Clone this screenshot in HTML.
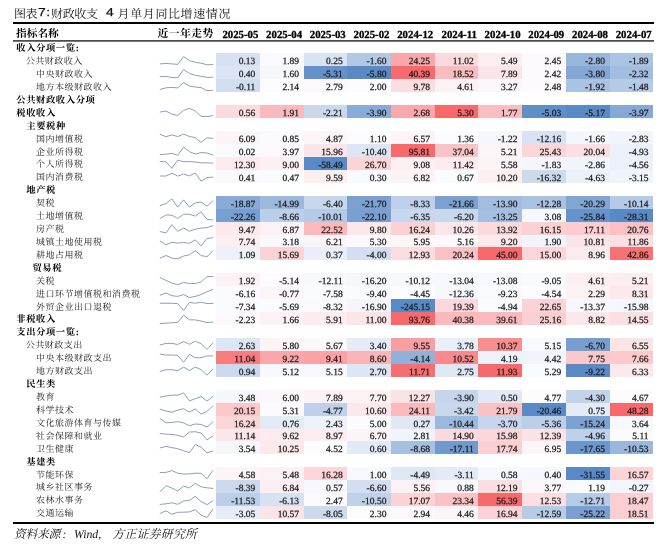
<!DOCTYPE html>
<html lang="zh-CN"><head><meta charset="utf-8"><title>图表7:财政收支4月单月同比增速情况</title>
<style>
html,body{margin:0;padding:0;background:#fff}
body{width:660px;height:548px;position:relative;overflow:hidden;will-change:transform;text-rendering:geometricPrecision;font-family:"Liberation Serif",serif}
.ln{position:absolute;background:#000}
.c{position:absolute;width:43.70px;height:12.94px;line-height:16.34px;box-sizing:border-box;padding-right:4.6px;text-align:right;font-size:9.5px;color:#1a1a1a;white-space:nowrap;-webkit-text-stroke:0.25px #1a1a1a}
.h{position:absolute;top:24px;height:16px;line-height:22.6px;box-sizing:border-box;padding-right:1.5px;text-align:right;font-size:10.8px;font-weight:bold;color:#000;white-space:nowrap;-webkit-text-stroke:0.3px #000}
.t{position:absolute;margin:0;font-weight:normal;font-size:9.5px;line-height:12.9px;color:transparent;white-space:nowrap;font-family:"Liberation Sans",sans-serif}
.t.b{font-weight:bold;font-size:10px}
.lat{position:absolute;font-family:"Liberation Sans",sans-serif;color:#111;line-height:14px;white-space:nowrap}
.ov{position:absolute;left:0;top:0;pointer-events:none}
.ov text{font-family:"Liberation Serif","Noto Serif CJK SC",serif}
</style></head>
<body>
<div class="ln" style="left:13px;top:22px;width:640.6px;height:2px"></div>
<div class="ln" style="left:13px;top:40px;width:640.6px;height:1px;background:#4c4c4c"></div>
<div class="ln" style="left:13px;top:41px;width:640.6px;height:1px;background:#777"></div>
<div class="ln" style="left:13px;top:522px;width:640.6px;height:2px"></div>
<h1 class="t" style="left:15px;top:6px;font-size:11.3px">图表7:财政收支 4 月单月同比增速情况</h1>
<span class="lat" style="left:37.6px;top:5.9px;font-size:11.6px;letter-spacing:0.5px;transform:scaleX(1.2);transform-origin:0 0;-webkit-text-stroke:0.25px #111">7:</span>
<span class="lat" style="left:106.2px;top:5.9px;font-size:11.6px;transform:scaleX(1.2);transform-origin:0 0;-webkit-text-stroke:0.25px #111">4</span>
<div class="t" style="left:16px;top:28px;font-size:10.6px;font-weight:bold">指标名称</div>
<div class="t" style="left:157px;top:28px;font-size:10.6px;font-weight:bold">近一年走势</div>
<div class="h" style="left:216.20px;width:43.70px">2025-05</div>
<div class="h" style="left:259.90px;width:43.70px">2025-04</div>
<div class="h" style="left:303.60px;width:43.70px">2025-03</div>
<div class="h" style="left:347.30px;width:43.70px">2025-02</div>
<div class="h" style="left:391.00px;width:43.70px">2024-12</div>
<div class="h" style="left:434.70px;width:43.70px">2024-11</div>
<div class="h" style="left:478.40px;width:43.70px">2024-10</div>
<div class="h" style="left:522.10px;width:43.70px">2024-09</div>
<div class="h" style="left:565.80px;width:43.70px">2024-08</div>
<div class="h" style="left:609.50px;width:43.70px">2024-07</div>
<div class="t b" style="left:16.3px;top:40.50px">收入分项一览:</div>
<div class="t" style="left:25.4px;top:53.44px">公共财政收入</div>
<div class="c" style="left:216px;top:53px;width:44px;height:13px;line-height:18.00px;padding-right:4.70px;background:#d6e1f2">0.13</div>
<div class="c" style="left:260px;top:53px;width:44px;height:13px;line-height:18.00px;padding-right:5.00px;background:#fbfbff">1.89</div>
<div class="c" style="left:304px;top:53px;width:43px;height:13px;line-height:18.00px;padding-right:4.30px;background:#d9e3f3">0.25</div>
<div class="c" style="left:347px;top:53px;width:44px;height:13px;line-height:18.00px;padding-right:4.60px;background:#b2c8e5">-1.60</div>
<div class="c" style="left:391px;top:53px;width:44px;height:13px;line-height:18.00px;padding-right:4.90px;background:#faa7a9">24.25</div>
<div class="c" style="left:435px;top:53px;width:43px;height:13px;line-height:18.00px;padding-right:4.20px;background:#fbd9dc">11.02</div>
<div class="c" style="left:478px;top:53px;width:44px;height:13px;line-height:18.00px;padding-right:4.50px;background:#fceef1">5.49</div>
<div class="c" style="left:522px;top:53px;width:44px;height:13px;line-height:18.00px;padding-right:4.80px;background:#fcfafd">2.45</div>
<div class="c" style="left:566px;top:53px;width:44px;height:13px;line-height:18.00px;padding-right:5.10px;background:#99b6dc">-2.80</div>
<div class="c" style="left:610px;top:53px;width:43px;height:13px;line-height:18.00px;padding-right:4.40px;background:#acc4e3">-1.89</div>
<div class="t" style="left:35.8px;top:66.37px">中央财政收入</div>
<div class="c" style="left:216px;top:66px;width:44px;height:13px;line-height:18.00px;padding-right:4.70px;background:#dce5f4">0.40</div>
<div class="c" style="left:260px;top:66px;width:44px;height:13px;line-height:18.00px;padding-right:5.00px;background:#f5f7fc">1.60</div>
<div class="c" style="left:304px;top:66px;width:43px;height:13px;line-height:18.00px;padding-right:4.30px;background:#6491ca">-5.31</div>
<div class="c" style="left:347px;top:66px;width:44px;height:13px;line-height:18.00px;padding-right:4.60px;background:#5a8ac6">-5.80</div>
<div class="c" style="left:391px;top:66px;width:44px;height:13px;line-height:18.00px;padding-right:4.90px;background:#f8696b">40.39</div>
<div class="c" style="left:435px;top:66px;width:43px;height:13px;line-height:18.00px;padding-right:4.20px;background:#fabdbf">18.52</div>
<div class="c" style="left:478px;top:66px;width:44px;height:13px;line-height:18.00px;padding-right:4.50px;background:#fbe5e8">7.89</div>
<div class="c" style="left:522px;top:66px;width:44px;height:13px;line-height:18.00px;padding-right:4.80px;background:#fcfafd">2.42</div>
<div class="c" style="left:566px;top:66px;width:44px;height:13px;line-height:18.00px;padding-right:5.10px;background:#84a7d5">-3.80</div>
<div class="c" style="left:610px;top:66px;width:43px;height:13px;line-height:18.00px;padding-right:4.40px;background:#a3bde0">-2.32</div>
<div class="t" style="left:35.8px;top:79.31px">地方本级财政收入</div>
<div class="c" style="left:216px;top:79px;width:44px;height:13px;line-height:18.00px;padding-right:4.70px;background:#d1def0">-0.11</div>
<div class="c" style="left:260px;top:79px;width:44px;height:13px;line-height:18.00px;padding-right:5.00px;background:#fcfbfe">2.14</div>
<div class="c" style="left:304px;top:79px;width:43px;height:13px;line-height:18.00px;padding-right:4.30px;background:#fcf9fc">2.79</div>
<div class="c" style="left:347px;top:79px;width:44px;height:13px;line-height:18.00px;padding-right:4.60px;background:#fcfcff">2.00</div>
<div class="c" style="left:391px;top:79px;width:44px;height:13px;line-height:18.00px;padding-right:4.90px;background:#fbdee1">9.78</div>
<div class="c" style="left:435px;top:79px;width:43px;height:13px;line-height:18.00px;padding-right:4.20px;background:#fcf2f5">4.61</div>
<div class="c" style="left:478px;top:79px;width:44px;height:13px;line-height:18.00px;padding-right:4.50px;background:#fcf7fa">3.27</div>
<div class="c" style="left:522px;top:79px;width:44px;height:13px;line-height:18.00px;padding-right:4.80px;background:#fcfafd">2.48</div>
<div class="c" style="left:566px;top:79px;width:44px;height:13px;line-height:18.00px;padding-right:5.10px;background:#abc3e3">-1.92</div>
<div class="c" style="left:610px;top:79px;width:43px;height:13px;line-height:18.00px;padding-right:4.40px;background:#b4cae6">-1.48</div>
<div class="t b" style="left:16.3px;top:92.24px">公共财政收入分项</div>
<div class="t b" style="left:16.3px;top:105.17px">税收收入</div>
<div class="c" style="left:216px;top:105px;width:44px;height:13px;line-height:18.00px;padding-right:4.70px;background:#fbdbde">0.56</div>
<div class="c" style="left:260px;top:105px;width:44px;height:13px;line-height:18.00px;padding-right:5.00px;background:#fababd">1.91</div>
<div class="c" style="left:304px;top:105px;width:43px;height:13px;line-height:18.00px;padding-right:4.30px;background:#c8d8ed">-2.21</div>
<div class="c" style="left:347px;top:105px;width:44px;height:13px;line-height:18.00px;padding-right:4.60px;background:#89abd7">-3.90</div>
<div class="c" style="left:391px;top:105px;width:44px;height:13px;line-height:18.00px;padding-right:4.90px;background:#faa8aa">2.68</div>
<div class="c" style="left:435px;top:105px;width:43px;height:13px;line-height:18.00px;padding-right:4.20px;background:#f8696b">5.30</div>
<div class="c" style="left:478px;top:105px;width:44px;height:13px;line-height:18.00px;padding-right:4.50px;background:#fabec0">1.77</div>
<div class="c" style="left:522px;top:105px;width:44px;height:13px;line-height:18.00px;padding-right:4.80px;background:#5f8ec8">-5.03</div>
<div class="c" style="left:566px;top:105px;width:44px;height:13px;line-height:18.00px;padding-right:5.10px;background:#5a8ac6">-5.17</div>
<div class="c" style="left:610px;top:105px;width:43px;height:13px;line-height:18.00px;padding-right:4.40px;background:#87a9d6">-3.97</div>
<div class="t b" style="left:26.3px;top:118.11px">主要税种</div>
<div class="t" style="left:35.8px;top:131.05px">国内增值税</div>
<div class="c" style="left:216px;top:131px;width:44px;height:13px;line-height:18.00px;padding-right:4.70px;background:#fcf4f7">6.09</div>
<div class="c" style="left:260px;top:131px;width:44px;height:13px;line-height:18.00px;padding-right:5.00px;background:#fbfbff">0.85</div>
<div class="c" style="left:304px;top:131px;width:43px;height:13px;line-height:18.00px;padding-right:4.30px;background:#fcf6f9">4.87</div>
<div class="c" style="left:347px;top:131px;width:44px;height:13px;line-height:18.00px;padding-right:4.60px;background:#fcfcff">1.10</div>
<div class="c" style="left:391px;top:131px;width:44px;height:13px;line-height:18.00px;padding-right:4.90px;background:#fcf4f7">6.57</div>
<div class="c" style="left:435px;top:131px;width:43px;height:13px;line-height:18.00px;padding-right:4.20px;background:#fcfcff">1.36</div>
<div class="c" style="left:478px;top:131px;width:44px;height:13px;line-height:18.00px;padding-right:4.50px;background:#f5f7fd">-1.22</div>
<div class="c" style="left:522px;top:131px;width:44px;height:13px;line-height:18.00px;padding-right:4.80px;background:#d8e2f2">-12.16</div>
<div class="c" style="left:566px;top:131px;width:44px;height:13px;line-height:18.00px;padding-right:5.10px;background:#f4f6fc">-1.66</div>
<div class="c" style="left:610px;top:131px;width:43px;height:13px;line-height:18.00px;padding-right:4.40px;background:#f1f4fb">-2.83</div>
<div class="t" style="left:35.8px;top:143.98px">企业所得税</div>
<div class="c" style="left:216px;top:144px;width:44px;height:13px;line-height:18.00px;padding-right:4.70px;background:#f9fafe">0.02</div>
<div class="c" style="left:260px;top:144px;width:44px;height:13px;line-height:18.00px;padding-right:5.00px;background:#fcf8fb">3.97</div>
<div class="c" style="left:304px;top:144px;width:43px;height:13px;line-height:18.00px;padding-right:4.30px;background:#fbe5e8">15.96</div>
<div class="c" style="left:347px;top:144px;width:44px;height:13px;line-height:18.00px;padding-right:4.60px;background:#dce6f4">-10.40</div>
<div class="c" style="left:391px;top:144px;width:44px;height:13px;line-height:18.00px;padding-right:4.90px;background:#f8696b">95.81</div>
<div class="c" style="left:435px;top:144px;width:43px;height:13px;line-height:18.00px;padding-right:4.20px;background:#fac4c7">37.04</div>
<div class="c" style="left:478px;top:144px;width:44px;height:13px;line-height:18.00px;padding-right:4.50px;background:#fcf6f9">5.21</div>
<div class="c" style="left:522px;top:144px;width:44px;height:13px;line-height:18.00px;padding-right:4.80px;background:#fbd6d9">25.43</div>
<div class="c" style="left:566px;top:144px;width:44px;height:13px;line-height:18.00px;padding-right:5.10px;background:#fbdfe2">20.04</div>
<div class="c" style="left:610px;top:144px;width:43px;height:13px;line-height:18.00px;padding-right:4.40px;background:#ebf0f9">-4.93</div>
<div class="t" style="left:35.8px;top:156.92px">个人所得税</div>
<div class="c" style="left:216px;top:157px;width:44px;height:13px;line-height:18.00px;padding-right:4.70px;background:#fcebee">12.30</div>
<div class="c" style="left:260px;top:157px;width:44px;height:13px;line-height:18.00px;padding-right:5.00px;background:#fcf0f3">9.00</div>
<div class="c" style="left:304px;top:157px;width:43px;height:13px;line-height:18.00px;padding-right:4.30px;background:#5a8ac6">-58.49</div>
<div class="c" style="left:347px;top:157px;width:44px;height:13px;line-height:18.00px;padding-right:4.60px;background:#fbd4d7">26.70</div>
<div class="c" style="left:391px;top:157px;width:44px;height:13px;line-height:18.00px;padding-right:4.90px;background:#fcf0f3">9.08</div>
<div class="c" style="left:435px;top:157px;width:43px;height:13px;line-height:18.00px;padding-right:4.20px;background:#fcecef">11.42</div>
<div class="c" style="left:478px;top:157px;width:44px;height:13px;line-height:18.00px;padding-right:4.50px;background:#fcf5f8">5.58</div>
<div class="c" style="left:522px;top:157px;width:44px;height:13px;line-height:18.00px;padding-right:4.80px;background:#f4f6fc">-1.83</div>
<div class="c" style="left:566px;top:157px;width:44px;height:13px;line-height:18.00px;padding-right:5.10px;background:#f1f4fb">-2.86</div>
<div class="c" style="left:610px;top:157px;width:43px;height:13px;line-height:18.00px;padding-right:4.40px;background:#ecf1f9">-4.56</div>
<div class="t" style="left:35.8px;top:169.85px">国内消费税</div>
<div class="c" style="left:216px;top:170px;width:44px;height:13px;line-height:18.00px;padding-right:4.70px;background:#fafafe">0.41</div>
<div class="c" style="left:260px;top:170px;width:44px;height:13px;line-height:18.00px;padding-right:5.00px;background:#fafbfe">0.47</div>
<div class="c" style="left:304px;top:170px;width:43px;height:13px;line-height:18.00px;padding-right:4.30px;background:#fceff2">9.59</div>
<div class="c" style="left:347px;top:170px;width:44px;height:13px;line-height:18.00px;padding-right:4.60px;background:#f9fafe">0.30</div>
<div class="c" style="left:391px;top:170px;width:44px;height:13px;line-height:18.00px;padding-right:4.90px;background:#fcf3f6">6.82</div>
<div class="c" style="left:435px;top:170px;width:43px;height:13px;line-height:18.00px;padding-right:4.20px;background:#fafbfe">0.67</div>
<div class="c" style="left:478px;top:170px;width:44px;height:13px;line-height:18.00px;padding-right:4.50px;background:#fceef1">10.20</div>
<div class="c" style="left:522px;top:170px;width:44px;height:13px;line-height:18.00px;padding-right:4.80px;background:#ccdaee">-16.32</div>
<div class="c" style="left:566px;top:170px;width:44px;height:13px;line-height:18.00px;padding-right:5.10px;background:#ecf1f9">-4.63</div>
<div class="c" style="left:610px;top:170px;width:43px;height:13px;line-height:18.00px;padding-right:4.40px;background:#f0f4fb">-3.15</div>
<div class="t b" style="left:26.3px;top:182.78px">地产税</div>
<div class="t" style="left:35.8px;top:195.72px">契税</div>
<div class="c" style="left:216px;top:196px;width:44px;height:13px;line-height:18.00px;padding-right:4.70px;background:#89abd7">-18.87</div>
<div class="c" style="left:260px;top:196px;width:44px;height:13px;line-height:18.00px;padding-right:5.00px;background:#9cb9dd">-14.99</div>
<div class="c" style="left:304px;top:196px;width:43px;height:13px;line-height:18.00px;padding-right:4.30px;background:#c7d7ec">-6.40</div>
<div class="c" style="left:347px;top:196px;width:44px;height:13px;line-height:18.00px;padding-right:4.60px;background:#7ba1d2">-21.70</div>
<div class="c" style="left:391px;top:196px;width:44px;height:13px;line-height:18.00px;padding-right:4.90px;background:#bed0e9">-8.33</div>
<div class="c" style="left:435px;top:196px;width:43px;height:13px;line-height:18.00px;padding-right:4.20px;background:#7ba1d2">-21.66</div>
<div class="c" style="left:478px;top:196px;width:44px;height:13px;line-height:18.00px;padding-right:4.50px;background:#a2bddf">-13.90</div>
<div class="c" style="left:522px;top:196px;width:44px;height:13px;line-height:18.00px;padding-right:4.80px;background:#aac2e2">-12.28</div>
<div class="c" style="left:566px;top:196px;width:44px;height:13px;line-height:18.00px;padding-right:5.10px;background:#82a6d4">-20.29</div>
<div class="c" style="left:610px;top:196px;width:43px;height:13px;line-height:18.00px;padding-right:4.40px;background:#b5cae6">-10.14</div>
<div class="t" style="left:35.8px;top:208.66px">土地增值税</div>
<div class="c" style="left:216px;top:209px;width:44px;height:13px;line-height:18.00px;padding-right:4.70px;background:#789fd1">-22.26</div>
<div class="c" style="left:260px;top:209px;width:44px;height:13px;line-height:18.00px;padding-right:5.00px;background:#bccfe8">-8.66</div>
<div class="c" style="left:304px;top:209px;width:43px;height:13px;line-height:18.00px;padding-right:4.30px;background:#b5cae6">-10.01</div>
<div class="c" style="left:347px;top:209px;width:44px;height:13px;line-height:18.00px;padding-right:4.60px;background:#79a0d1">-22.10</div>
<div class="c" style="left:391px;top:209px;width:44px;height:13px;line-height:18.00px;padding-right:4.90px;background:#c8d7ed">-6.35</div>
<div class="c" style="left:435px;top:209px;width:43px;height:13px;line-height:18.00px;padding-right:4.20px;background:#c8d8ed">-6.20</div>
<div class="c" style="left:478px;top:209px;width:44px;height:13px;line-height:18.00px;padding-right:4.50px;background:#a5bfe0">-13.25</div>
<div class="c" style="left:522px;top:209px;width:44px;height:13px;line-height:18.00px;padding-right:4.80px;background:#f7f8fd">3.08</div>
<div class="c" style="left:566px;top:209px;width:44px;height:13px;line-height:18.00px;padding-right:5.10px;background:#6693ca">-25.84</div>
<div class="c" style="left:610px;top:209px;width:43px;height:13px;line-height:18.00px;padding-right:4.40px;background:#5a8ac6">-28.31</div>
<div class="t" style="left:35.8px;top:221.59px">房产税</div>
<div class="c" style="left:216px;top:222px;width:44px;height:13px;line-height:18.00px;padding-right:4.70px;background:#fbe9ec">9.47</div>
<div class="c" style="left:260px;top:222px;width:44px;height:13px;line-height:18.00px;padding-right:5.00px;background:#fcf2f5">6.87</div>
<div class="c" style="left:304px;top:222px;width:43px;height:13px;line-height:18.00px;padding-right:4.30px;background:#fababc">22.52</div>
<div class="c" style="left:347px;top:222px;width:44px;height:13px;line-height:18.00px;padding-right:4.60px;background:#fbe8eb">9.80</div>
<div class="c" style="left:391px;top:222px;width:44px;height:13px;line-height:18.00px;padding-right:4.90px;background:#fbd1d3">16.24</div>
<div class="c" style="left:435px;top:222px;width:43px;height:13px;line-height:18.00px;padding-right:4.20px;background:#fbe6e9">10.26</div>
<div class="c" style="left:478px;top:222px;width:44px;height:13px;line-height:18.00px;padding-right:4.50px;background:#fbd9dc">13.92</div>
<div class="c" style="left:522px;top:222px;width:44px;height:13px;line-height:18.00px;padding-right:4.80px;background:#fbd1d4">16.15</div>
<div class="c" style="left:566px;top:222px;width:44px;height:13px;line-height:18.00px;padding-right:5.10px;background:#fbcdd0">17.11</div>
<div class="c" style="left:610px;top:222px;width:43px;height:13px;line-height:18.00px;padding-right:4.40px;background:#fac0c3">20.76</div>
<div class="t" style="left:35.8px;top:234.53px">城镇土地使用税</div>
<div class="c" style="left:216px;top:235px;width:44px;height:12px;line-height:16.00px;padding-right:4.70px;background:#fceff2">7.74</div>
<div class="c" style="left:260px;top:235px;width:44px;height:12px;line-height:16.00px;padding-right:5.00px;background:#f7f9fd">3.18</div>
<div class="c" style="left:304px;top:235px;width:43px;height:12px;line-height:16.00px;padding-right:4.30px;background:#fcf5f8">6.21</div>
<div class="c" style="left:347px;top:235px;width:44px;height:12px;line-height:16.00px;padding-right:4.60px;background:#fcf8fb">5.30</div>
<div class="c" style="left:391px;top:235px;width:44px;height:12px;line-height:16.00px;padding-right:4.90px;background:#fcf6f9">5.95</div>
<div class="c" style="left:435px;top:235px;width:43px;height:12px;line-height:16.00px;padding-right:4.20px;background:#fcf8fb">5.16</div>
<div class="c" style="left:478px;top:235px;width:44px;height:12px;line-height:16.00px;padding-right:4.50px;background:#fceaed">9.20</div>
<div class="c" style="left:522px;top:235px;width:44px;height:12px;line-height:16.00px;padding-right:4.80px;background:#f1f4fb">1.90</div>
<div class="c" style="left:566px;top:235px;width:44px;height:12px;line-height:16.00px;padding-right:5.10px;background:#fbe4e7">10.81</div>
<div class="c" style="left:610px;top:235px;width:43px;height:12px;line-height:16.00px;padding-right:4.40px;background:#fbe0e3">11.86</div>
<div class="t" style="left:35.8px;top:247.46px">耕地占用税</div>
<div class="c" style="left:216px;top:247px;width:44px;height:13px;line-height:18.00px;padding-right:4.70px;background:#edf1fa">1.09</div>
<div class="c" style="left:260px;top:247px;width:44px;height:13px;line-height:18.00px;padding-right:5.00px;background:#fbd3d5">15.69</div>
<div class="c" style="left:304px;top:247px;width:43px;height:13px;line-height:18.00px;padding-right:4.30px;background:#e9eff8">0.37</div>
<div class="c" style="left:347px;top:247px;width:44px;height:13px;line-height:18.00px;padding-right:4.60px;background:#d3dff1">-4.00</div>
<div class="c" style="left:391px;top:247px;width:44px;height:13px;line-height:18.00px;padding-right:4.90px;background:#fbdcdf">12.93</div>
<div class="c" style="left:435px;top:247px;width:43px;height:13px;line-height:18.00px;padding-right:4.20px;background:#fac2c5">20.24</div>
<div class="c" style="left:478px;top:247px;width:44px;height:13px;line-height:18.00px;padding-right:4.50px;background:#f8696b">45.00</div>
<div class="c" style="left:522px;top:247px;width:44px;height:13px;line-height:18.00px;padding-right:4.80px;background:#fbd5d8">15.00</div>
<div class="c" style="left:566px;top:247px;width:44px;height:13px;line-height:18.00px;padding-right:5.10px;background:#fcebee">8.96</div>
<div class="c" style="left:610px;top:247px;width:43px;height:13px;line-height:18.00px;padding-right:4.40px;background:#f87173">42.86</div>
<div class="t b" style="left:32.5px;top:260.39px">贸易税</div>
<div class="t" style="left:35.8px;top:273.33px">关税</div>
<div class="c" style="left:216px;top:273px;width:44px;height:13px;line-height:18.00px;padding-right:4.70px;background:#fcf2f5">1.92</div>
<div class="c" style="left:260px;top:273px;width:44px;height:13px;line-height:18.00px;padding-right:5.00px;background:#fcfcff">-5.14</div>
<div class="c" style="left:304px;top:273px;width:43px;height:13px;line-height:18.00px;padding-right:4.30px;background:#f7f9fd">-12.11</div>
<div class="c" style="left:347px;top:273px;width:44px;height:13px;line-height:18.00px;padding-right:4.60px;background:#f4f7fc">-16.20</div>
<div class="c" style="left:391px;top:273px;width:44px;height:13px;line-height:18.00px;padding-right:4.90px;background:#f8f9fe">-10.12</div>
<div class="c" style="left:435px;top:273px;width:43px;height:13px;line-height:18.00px;padding-right:4.20px;background:#f6f8fd">-13.04</div>
<div class="c" style="left:478px;top:273px;width:44px;height:13px;line-height:18.00px;padding-right:4.50px;background:#f6f8fd">-13.08</div>
<div class="c" style="left:522px;top:273px;width:44px;height:13px;line-height:18.00px;padding-right:4.80px;background:#f9fafe">-9.05</div>
<div class="c" style="left:566px;top:273px;width:44px;height:13px;line-height:18.00px;padding-right:5.10px;background:#fceef1">4.61</div>
<div class="c" style="left:610px;top:273px;width:43px;height:13px;line-height:18.00px;padding-right:4.40px;background:#fcedf0">5.21</div>
<div class="t" style="left:35.8px;top:286.26px">进口环节增值税和消费税</div>
<div class="c" style="left:216px;top:286px;width:44px;height:13px;line-height:18.00px;padding-right:4.70px;background:#fbfbff">-6.16</div>
<div class="c" style="left:260px;top:286px;width:44px;height:13px;line-height:18.00px;padding-right:5.00px;background:#fcf6f9">-0.77</div>
<div class="c" style="left:304px;top:286px;width:43px;height:13px;line-height:18.00px;padding-right:4.30px;background:#fafbfe">-7.58</div>
<div class="c" style="left:347px;top:286px;width:44px;height:13px;line-height:18.00px;padding-right:4.60px;background:#f9fafe">-9.40</div>
<div class="c" style="left:391px;top:286px;width:44px;height:13px;line-height:18.00px;padding-right:4.90px;background:#fcfcff">-4.45</div>
<div class="c" style="left:435px;top:286px;width:43px;height:13px;line-height:18.00px;padding-right:4.20px;background:#f7f8fd">-12.36</div>
<div class="c" style="left:478px;top:286px;width:44px;height:13px;line-height:18.00px;padding-right:4.50px;background:#f9fafe">-9.23</div>
<div class="c" style="left:522px;top:286px;width:44px;height:13px;line-height:18.00px;padding-right:4.80px;background:#fcfcff">-4.54</div>
<div class="c" style="left:566px;top:286px;width:44px;height:13px;line-height:18.00px;padding-right:5.10px;background:#fcf2f4">2.29</div>
<div class="c" style="left:610px;top:286px;width:43px;height:13px;line-height:18.00px;padding-right:4.40px;background:#fbe9eb">8.31</div>
<div class="t" style="left:35.8px;top:299.20px">外贸企业出口退税</div>
<div class="c" style="left:216px;top:299px;width:44px;height:13px;line-height:18.00px;padding-right:4.70px;background:#fafbfe">-7.34</div>
<div class="c" style="left:260px;top:299px;width:44px;height:13px;line-height:18.00px;padding-right:5.00px;background:#fbfcff">-5.69</div>
<div class="c" style="left:304px;top:299px;width:43px;height:13px;line-height:18.00px;padding-right:4.30px;background:#fafafe">-8.32</div>
<div class="c" style="left:347px;top:299px;width:44px;height:13px;line-height:18.00px;padding-right:4.60px;background:#f4f6fc">-16.90</div>
<div class="c" style="left:391px;top:299px;width:44px;height:13px;line-height:18.00px;padding-right:4.90px;background:#5a8ac6">-245.15</div>
<div class="c" style="left:435px;top:299px;width:43px;height:13px;line-height:18.00px;padding-right:4.20px;background:#fbd8db">19.39</div>
<div class="c" style="left:478px;top:299px;width:44px;height:13px;line-height:18.00px;padding-right:4.50px;background:#fcfcff">-4.94</div>
<div class="c" style="left:522px;top:299px;width:44px;height:13px;line-height:18.00px;padding-right:4.80px;background:#fbd3d6">22.65</div>
<div class="c" style="left:566px;top:299px;width:44px;height:13px;line-height:18.00px;padding-right:5.10px;background:#f6f8fd">-13.37</div>
<div class="c" style="left:610px;top:299px;width:43px;height:13px;line-height:18.00px;padding-right:4.40px;background:#f4f7fc">-15.98</div>
<div class="t b" style="left:16.3px;top:312.13px">非税收入</div>
<div class="c" style="left:216px;top:312px;width:44px;height:13px;line-height:18.00px;padding-right:4.70px;background:#fcf8fb">-2.23</div>
<div class="c" style="left:260px;top:312px;width:44px;height:13px;line-height:18.00px;padding-right:5.00px;background:#fcf2f5">1.66</div>
<div class="c" style="left:304px;top:312px;width:43px;height:13px;line-height:18.00px;padding-right:4.30px;background:#fcecef">5.91</div>
<div class="c" style="left:347px;top:312px;width:44px;height:13px;line-height:18.00px;padding-right:4.60px;background:#fbe5e7">11.00</div>
<div class="c" style="left:391px;top:312px;width:44px;height:13px;line-height:18.00px;padding-right:4.90px;background:#f8696b">93.76</div>
<div class="c" style="left:435px;top:312px;width:43px;height:13px;line-height:18.00px;padding-right:4.20px;background:#fab9bb">40.38</div>
<div class="c" style="left:478px;top:312px;width:44px;height:13px;line-height:18.00px;padding-right:4.50px;background:#fababc">39.61</div>
<div class="c" style="left:522px;top:312px;width:44px;height:13px;line-height:18.00px;padding-right:4.80px;background:#fbcfd2">25.16</div>
<div class="c" style="left:566px;top:312px;width:44px;height:13px;line-height:18.00px;padding-right:5.10px;background:#fbe8eb">8.82</div>
<div class="c" style="left:610px;top:312px;width:43px;height:13px;line-height:18.00px;padding-right:4.40px;background:#fbdfe2">14.55</div>
<div class="t b" style="left:16.3px;top:325.07px">支出分项一览:</div>
<div class="t" style="left:25.4px;top:338.00px">公共财政支出</div>
<div class="c" style="left:216px;top:338px;width:44px;height:13px;line-height:18.00px;padding-right:4.70px;background:#dde6f4">2.63</div>
<div class="c" style="left:260px;top:338px;width:44px;height:13px;line-height:18.00px;padding-right:5.00px;background:#fcf5f8">5.80</div>
<div class="c" style="left:304px;top:338px;width:43px;height:13px;line-height:18.00px;padding-right:4.30px;background:#fcf8fb">5.67</div>
<div class="c" style="left:347px;top:338px;width:44px;height:13px;line-height:18.00px;padding-right:4.60px;background:#e5ecf7">3.40</div>
<div class="c" style="left:391px;top:338px;width:44px;height:13px;line-height:18.00px;padding-right:4.90px;background:#f99fa2">9.55</div>
<div class="c" style="left:435px;top:338px;width:43px;height:13px;line-height:18.00px;padding-right:4.20px;background:#e9eff8">3.78</div>
<div class="c" style="left:478px;top:338px;width:44px;height:13px;line-height:18.00px;padding-right:4.50px;background:#f98d8f">10.37</div>
<div class="c" style="left:522px;top:338px;width:44px;height:13px;line-height:18.00px;padding-right:4.80px;background:#f8f9fe">5.15</div>
<div class="c" style="left:566px;top:338px;width:44px;height:13px;line-height:18.00px;padding-right:5.10px;background:#769ed0">-6.70</div>
<div class="c" style="left:610px;top:338px;width:43px;height:13px;line-height:18.00px;padding-right:4.40px;background:#fbe4e6">6.55</div>
<div class="t" style="left:35.8px;top:350.94px">中央本级财政支出</div>
<div class="c" style="left:216px;top:351px;width:44px;height:13px;line-height:18.00px;padding-right:4.70px;background:#f97d7f">11.04</div>
<div class="c" style="left:260px;top:351px;width:44px;height:13px;line-height:18.00px;padding-right:5.00px;background:#faa7a9">9.22</div>
<div class="c" style="left:304px;top:351px;width:43px;height:13px;line-height:18.00px;padding-right:4.30px;background:#faa2a5">9.41</div>
<div class="c" style="left:347px;top:351px;width:44px;height:13px;line-height:18.00px;padding-right:4.60px;background:#fab5b7">8.60</div>
<div class="c" style="left:391px;top:351px;width:44px;height:13px;line-height:18.00px;padding-right:4.90px;background:#92b1da">-4.14</div>
<div class="c" style="left:435px;top:351px;width:43px;height:13px;line-height:18.00px;padding-right:4.20px;background:#f9898b">10.52</div>
<div class="c" style="left:478px;top:351px;width:44px;height:13px;line-height:18.00px;padding-right:4.50px;background:#eef2fa">4.19</div>
<div class="c" style="left:522px;top:351px;width:44px;height:13px;line-height:18.00px;padding-right:4.80px;background:#f0f4fb">4.42</div>
<div class="c" style="left:566px;top:351px;width:44px;height:13px;line-height:18.00px;padding-right:5.10px;background:#fbc8cb">7.75</div>
<div class="c" style="left:610px;top:351px;width:43px;height:13px;line-height:18.00px;padding-right:4.40px;background:#fbcacd">7.66</div>
<div class="t" style="left:35.8px;top:363.88px">地方财政支出</div>
<div class="c" style="left:216px;top:364px;width:44px;height:13px;line-height:18.00px;padding-right:4.70px;background:#cad9ed">0.94</div>
<div class="c" style="left:260px;top:364px;width:44px;height:13px;line-height:18.00px;padding-right:5.00px;background:#f8f9fe">5.12</div>
<div class="c" style="left:304px;top:364px;width:43px;height:13px;line-height:18.00px;padding-right:4.30px;background:#f8f9fe">5.15</div>
<div class="c" style="left:347px;top:364px;width:44px;height:13px;line-height:18.00px;padding-right:4.60px;background:#dde6f4">2.70</div>
<div class="c" style="left:391px;top:364px;width:44px;height:13px;line-height:18.00px;padding-right:4.90px;background:#f86e70">11.71</div>
<div class="c" style="left:435px;top:364px;width:43px;height:13px;line-height:18.00px;padding-right:4.20px;background:#dee7f4">2.75</div>
<div class="c" style="left:478px;top:364px;width:44px;height:13px;line-height:18.00px;padding-right:4.50px;background:#f8696b">11.93</div>
<div class="c" style="left:522px;top:364px;width:44px;height:13px;line-height:18.00px;padding-right:4.80px;background:#fafbfe">5.29</div>
<div class="c" style="left:566px;top:364px;width:44px;height:13px;line-height:18.00px;padding-right:5.10px;background:#5a8ac6">-9.22</div>
<div class="c" style="left:610px;top:364px;width:43px;height:13px;line-height:18.00px;padding-right:4.40px;background:#fbe9eb">6.33</div>
<div class="t b" style="left:26.3px;top:376.81px">民生类</div>
<div class="t" style="left:35.8px;top:389.75px">教育</div>
<div class="c" style="left:216px;top:390px;width:44px;height:13px;line-height:18.00px;padding-right:4.70px;background:#f5f7fc">3.48</div>
<div class="c" style="left:260px;top:390px;width:44px;height:13px;line-height:18.00px;padding-right:5.00px;background:#fcf7fa">6.00</div>
<div class="c" style="left:304px;top:390px;width:43px;height:13px;line-height:18.00px;padding-right:4.30px;background:#fcf1f4">7.89</div>
<div class="c" style="left:347px;top:390px;width:44px;height:13px;line-height:18.00px;padding-right:4.60px;background:#fcf2f4">7.70</div>
<div class="c" style="left:391px;top:390px;width:44px;height:13px;line-height:18.00px;padding-right:4.90px;background:#fbe2e5">12.27</div>
<div class="c" style="left:435px;top:390px;width:43px;height:13px;line-height:18.00px;padding-right:4.20px;background:#c5d5ec">-3.90</div>
<div class="c" style="left:478px;top:390px;width:44px;height:13px;line-height:18.00px;padding-right:4.50px;background:#e2e9f6">0.50</div>
<div class="c" style="left:522px;top:390px;width:44px;height:13px;line-height:18.00px;padding-right:4.80px;background:#fcfbfe">4.77</div>
<div class="c" style="left:566px;top:390px;width:44px;height:13px;line-height:18.00px;padding-right:5.10px;background:#c2d4eb">-4.30</div>
<div class="c" style="left:610px;top:390px;width:43px;height:13px;line-height:18.00px;padding-right:4.40px;background:#fcfcff">4.67</div>
<div class="t" style="left:35.8px;top:402.68px">科学技术</div>
<div class="c" style="left:216px;top:403px;width:44px;height:13px;line-height:18.00px;padding-right:4.70px;background:#fbc8ca">20.15</div>
<div class="c" style="left:260px;top:403px;width:44px;height:13px;line-height:18.00px;padding-right:5.00px;background:#fcfafd">5.31</div>
<div class="c" style="left:304px;top:403px;width:43px;height:13px;line-height:18.00px;padding-right:4.30px;background:#bfd1ea">-4.77</div>
<div class="c" style="left:347px;top:403px;width:44px;height:13px;line-height:18.00px;padding-right:4.60px;background:#fbe8eb">10.60</div>
<div class="c" style="left:391px;top:403px;width:44px;height:13px;line-height:18.00px;padding-right:4.90px;background:#fababd">24.11</div>
<div class="c" style="left:435px;top:403px;width:43px;height:13px;line-height:18.00px;padding-right:4.20px;background:#c8d8ed">-3.42</div>
<div class="c" style="left:478px;top:403px;width:44px;height:13px;line-height:18.00px;padding-right:4.50px;background:#fac2c5">21.79</div>
<div class="c" style="left:522px;top:403px;width:44px;height:13px;line-height:18.00px;padding-right:4.80px;background:#5a8ac6">-20.46</div>
<div class="c" style="left:566px;top:403px;width:44px;height:13px;line-height:18.00px;padding-right:5.10px;background:#e3ebf6">0.75</div>
<div class="c" style="left:610px;top:403px;width:43px;height:13px;line-height:18.00px;padding-right:4.40px;background:#f8696b">48.28</div>
<div class="t" style="left:35.8px;top:415.62px">文化旅游体育与传媒</div>
<div class="c" style="left:216px;top:416px;width:44px;height:13px;line-height:18.00px;padding-right:4.70px;background:#fbd5d8">16.24</div>
<div class="c" style="left:260px;top:416px;width:44px;height:13px;line-height:18.00px;padding-right:5.00px;background:#e3ebf6">0.76</div>
<div class="c" style="left:304px;top:416px;width:43px;height:13px;line-height:18.00px;padding-right:4.30px;background:#eef2fa">2.43</div>
<div class="c" style="left:347px;top:416px;width:44px;height:13px;line-height:18.00px;padding-right:4.60px;background:#fcfbfe">5.00</div>
<div class="c" style="left:391px;top:416px;width:44px;height:13px;line-height:18.00px;padding-right:4.90px;background:#e0e8f5">0.27</div>
<div class="c" style="left:435px;top:416px;width:43px;height:13px;line-height:18.00px;padding-right:4.20px;background:#9bb8dd">-10.44</div>
<div class="c" style="left:478px;top:416px;width:44px;height:13px;line-height:18.00px;padding-right:4.50px;background:#c6d6ec">-3.70</div>
<div class="c" style="left:522px;top:416px;width:44px;height:13px;line-height:18.00px;padding-right:4.80px;background:#bccfe8">-5.36</div>
<div class="c" style="left:566px;top:416px;width:44px;height:13px;line-height:18.00px;padding-right:5.10px;background:#7ca2d2">-15.24</div>
<div class="c" style="left:610px;top:416px;width:43px;height:13px;line-height:18.00px;padding-right:4.40px;background:#f6f8fd">3.64</div>
<div class="t" style="left:35.8px;top:428.55px">社会保障和就业</div>
<div class="c" style="left:216px;top:429px;width:44px;height:12px;line-height:16.00px;padding-right:4.70px;background:#fbe6e9">11.14</div>
<div class="c" style="left:260px;top:429px;width:44px;height:12px;line-height:16.00px;padding-right:5.00px;background:#fcebee">9.62</div>
<div class="c" style="left:304px;top:429px;width:43px;height:12px;line-height:16.00px;padding-right:4.30px;background:#fcedf0">8.97</div>
<div class="c" style="left:347px;top:429px;width:44px;height:12px;line-height:16.00px;padding-right:4.60px;background:#fcf5f8">6.70</div>
<div class="c" style="left:391px;top:429px;width:44px;height:12px;line-height:16.00px;padding-right:4.90px;background:#f0f4fb">2.81</div>
<div class="c" style="left:435px;top:429px;width:43px;height:12px;line-height:16.00px;padding-right:4.20px;background:#fbd9dc">14.90</div>
<div class="c" style="left:478px;top:429px;width:44px;height:12px;line-height:16.00px;padding-right:4.50px;background:#fbd6d8">15.98</div>
<div class="c" style="left:522px;top:429px;width:44px;height:12px;line-height:16.00px;padding-right:4.80px;background:#fbe2e5">12.39</div>
<div class="c" style="left:566px;top:429px;width:44px;height:12px;line-height:16.00px;padding-right:5.10px;background:#bed1e9">-4.96</div>
<div class="c" style="left:610px;top:429px;width:43px;height:12px;line-height:16.00px;padding-right:4.40px;background:#fcfafd">5.11</div>
<div class="t" style="left:35.8px;top:441.49px">卫生健康</div>
<div class="c" style="left:216px;top:441px;width:44px;height:13px;line-height:18.00px;padding-right:4.70px;background:#f5f7fd">3.54</div>
<div class="c" style="left:260px;top:441px;width:44px;height:13px;line-height:18.00px;padding-right:5.00px;background:#fbe9ec">10.25</div>
<div class="c" style="left:304px;top:441px;width:43px;height:13px;line-height:18.00px;padding-right:4.30px;background:#fcfcff">4.52</div>
<div class="c" style="left:347px;top:441px;width:44px;height:13px;line-height:18.00px;padding-right:4.60px;background:#e2eaf6">0.60</div>
<div class="c" style="left:391px;top:441px;width:44px;height:13px;line-height:18.00px;padding-right:4.90px;background:#a6c0e1">-8.68</div>
<div class="c" style="left:435px;top:441px;width:43px;height:13px;line-height:18.00px;padding-right:4.20px;background:#7099ce">-17.11</div>
<div class="c" style="left:478px;top:441px;width:44px;height:13px;line-height:18.00px;padding-right:4.50px;background:#fbd0d2">17.74</div>
<div class="c" style="left:522px;top:441px;width:44px;height:13px;line-height:18.00px;padding-right:4.80px;background:#fcf4f7">6.95</div>
<div class="c" style="left:566px;top:441px;width:44px;height:13px;line-height:18.00px;padding-right:5.10px;background:#6c97cc">-17.65</div>
<div class="c" style="left:610px;top:441px;width:43px;height:13px;line-height:18.00px;padding-right:4.40px;background:#9ab7dd">-10.53</div>
<div class="t b" style="left:26.3px;top:454.42px">基建类</div>
<div class="t" style="left:35.8px;top:467.36px">节能环保</div>
<div class="c" style="left:216px;top:467px;width:44px;height:13px;line-height:18.00px;padding-right:4.70px;background:#fcf4f7">4.58</div>
<div class="c" style="left:260px;top:467px;width:44px;height:13px;line-height:18.00px;padding-right:5.00px;background:#fcf2f5">5.48</div>
<div class="c" style="left:304px;top:467px;width:43px;height:13px;line-height:18.00px;padding-right:4.30px;background:#fbd5d8">16.28</div>
<div class="c" style="left:347px;top:467px;width:44px;height:13px;line-height:18.00px;padding-right:4.60px;background:#f8f9fe">1.00</div>
<div class="c" style="left:391px;top:467px;width:44px;height:13px;line-height:18.00px;padding-right:4.90px;background:#dee7f4">-4.49</div>
<div class="c" style="left:435px;top:467px;width:43px;height:13px;line-height:18.00px;padding-right:4.20px;background:#e4ebf7">-3.11</div>
<div class="c" style="left:478px;top:467px;width:44px;height:13px;line-height:18.00px;padding-right:4.50px;background:#f6f8fd">0.58</div>
<div class="c" style="left:522px;top:467px;width:44px;height:13px;line-height:18.00px;padding-right:4.80px;background:#f5f7fd">0.40</div>
<div class="c" style="left:566px;top:467px;width:44px;height:13px;line-height:18.00px;padding-right:5.10px;background:#5a8ac6">-31.55</div>
<div class="c" style="left:610px;top:467px;width:43px;height:13px;line-height:18.00px;padding-right:4.40px;background:#fbd4d7">16.57</div>
<div class="t" style="left:35.8px;top:480.29px">城乡社区事务</div>
<div class="c" style="left:216px;top:480px;width:44px;height:13px;line-height:18.00px;padding-right:4.70px;background:#cbd9ee">-8.39</div>
<div class="c" style="left:260px;top:480px;width:44px;height:13px;line-height:18.00px;padding-right:5.00px;background:#fceef1">6.84</div>
<div class="c" style="left:304px;top:480px;width:43px;height:13px;line-height:18.00px;padding-right:4.30px;background:#f6f8fd">0.57</div>
<div class="c" style="left:347px;top:480px;width:44px;height:13px;line-height:18.00px;padding-right:4.60px;background:#d3dff1">-6.60</div>
<div class="c" style="left:391px;top:480px;width:44px;height:13px;line-height:18.00px;padding-right:4.90px;background:#fcf2f5">5.56</div>
<div class="c" style="left:435px;top:480px;width:43px;height:13px;line-height:18.00px;padding-right:4.20px;background:#f8f9fe">0.88</div>
<div class="c" style="left:478px;top:480px;width:44px;height:13px;line-height:18.00px;padding-right:4.50px;background:#fbe0e3">12.19</div>
<div class="c" style="left:522px;top:480px;width:44px;height:13px;line-height:18.00px;padding-right:4.80px;background:#fcf7fa">3.77</div>
<div class="c" style="left:566px;top:480px;width:44px;height:13px;line-height:18.00px;padding-right:5.10px;background:#f9fafe">1.19</div>
<div class="c" style="left:610px;top:480px;width:43px;height:13px;line-height:18.00px;padding-right:4.40px;background:#f2f5fc">-0.27</div>
<div class="t" style="left:35.8px;top:493.23px">农林水事务</div>
<div class="c" style="left:216px;top:493px;width:44px;height:13px;line-height:18.00px;padding-right:4.70px;background:#bbcfe8">-11.53</div>
<div class="c" style="left:260px;top:493px;width:44px;height:13px;line-height:18.00px;padding-right:5.00px;background:#d6e1f2">-6.13</div>
<div class="c" style="left:304px;top:493px;width:43px;height:13px;line-height:18.00px;padding-right:4.30px;background:#fcfafd">2.47</div>
<div class="c" style="left:347px;top:493px;width:44px;height:13px;line-height:18.00px;padding-right:4.60px;background:#c0d2ea">-10.50</div>
<div class="c" style="left:391px;top:493px;width:44px;height:13px;line-height:18.00px;padding-right:4.90px;background:#fbd3d5">17.07</div>
<div class="c" style="left:435px;top:493px;width:43px;height:13px;line-height:18.00px;padding-right:4.20px;background:#fac2c5">23.34</div>
<div class="c" style="left:478px;top:493px;width:44px;height:13px;line-height:18.00px;padding-right:4.50px;background:#f8696b">56.39</div>
<div class="c" style="left:522px;top:493px;width:44px;height:13px;line-height:18.00px;padding-right:4.80px;background:#fbdfe2">12.53</div>
<div class="c" style="left:566px;top:493px;width:44px;height:13px;line-height:18.00px;padding-right:5.10px;background:#b6cbe6">-12.71</div>
<div class="c" style="left:610px;top:493px;width:43px;height:13px;line-height:18.00px;padding-right:4.40px;background:#fbcfd2">18.47</div>
<div class="t" style="left:35.8px;top:506.16px">交通运输</div>
<div class="c" style="left:216px;top:506px;width:44px;height:13px;line-height:18.00px;padding-right:4.70px;background:#e5ecf7">-3.05</div>
<div class="c" style="left:260px;top:506px;width:44px;height:13px;line-height:18.00px;padding-right:5.00px;background:#fbe4e7">10.57</div>
<div class="c" style="left:304px;top:506px;width:43px;height:13px;line-height:18.00px;padding-right:4.30px;background:#ccdaee">-8.05</div>
<div class="c" style="left:347px;top:506px;width:44px;height:13px;line-height:18.00px;padding-right:4.60px;background:#fcfbfd">2.30</div>
<div class="c" style="left:391px;top:506px;width:44px;height:13px;line-height:18.00px;padding-right:4.90px;background:#fcf9fc">2.94</div>
<div class="c" style="left:435px;top:506px;width:43px;height:13px;line-height:18.00px;padding-right:4.20px;background:#fcf5f8">4.46</div>
<div class="c" style="left:478px;top:506px;width:44px;height:13px;line-height:18.00px;padding-right:4.50px;background:#fbd3d6">16.94</div>
<div class="c" style="left:522px;top:506px;width:44px;height:13px;line-height:18.00px;padding-right:4.80px;background:#b6cbe6">-12.59</div>
<div class="c" style="left:566px;top:506px;width:44px;height:13px;line-height:18.00px;padding-right:5.10px;background:#79a0d1">-25.22</div>
<div class="c" style="left:610px;top:506px;width:43px;height:13px;line-height:18.00px;padding-right:4.40px;background:#fbcfd2">18.51</div>
<div class="t" style="left:14px;top:527px;font-size:11.3px;font-style:italic">资料来源: Wind, 方正证券研究所</div>
<svg class="ov" width="660" height="548" viewBox="0 0 660 548"><g fill="none" stroke="#909dbb" stroke-width="1" stroke-linejoin="round" stroke-linecap="round"><polyline points="160.2,63.9 166.0,63.4 171.9,63.9 177.7,64.4 183.6,56.6 189.4,60.6 195.3,62.3 201.1,63.2 207.0,64.8 212.8,64.5"/><polyline points="160.2,76.6 166.0,76.4 171.9,77.6 177.7,77.7 183.6,69.5 189.4,73.4 195.3,75.3 201.1,76.3 207.0,77.4 212.8,77.1"/><polyline points="160.2,89.4 166.0,87.8 171.9,87.4 177.7,87.9 183.6,82.5 189.4,86.1 195.3,87.0 201.1,87.6 207.0,90.7 212.8,90.3"/><polyline points="160.2,112.0 166.0,111.0 171.9,114.2 177.7,115.5 183.6,110.4 189.4,108.3 195.3,111.1 201.1,116.4 207.0,116.5 212.8,115.6"/><polyline points="160.2,134.4 166.0,136.7 171.9,134.9 177.7,136.6 183.6,134.2 189.4,136.5 195.3,137.6 201.1,142.4 207.0,137.8 212.8,138.3"/><polyline points="160.2,154.5 166.0,154.2 171.9,153.3 177.7,155.3 183.6,147.1 189.4,151.7 195.3,154.1 201.1,152.6 207.0,153.0 212.8,154.9"/><polyline points="160.2,161.5 166.0,161.8 171.9,168.3 177.7,160.1 183.6,161.8 189.4,161.5 195.3,162.1 201.1,162.8 207.0,162.9 212.8,163.1"/><polyline points="160.2,176.0 166.0,176.0 171.9,173.2 177.7,176.1 183.6,174.0 189.4,175.9 195.3,173.0 201.1,181.2 207.0,177.6 212.8,177.1"/><polyline points="160.2,205.6 166.0,203.5 171.9,198.9 177.7,207.1 183.6,199.9 189.4,207.0 195.3,202.9 201.1,202.0 207.0,206.3 212.8,200.9"/><polyline points="160.2,218.4 166.0,214.9 171.9,215.2 177.7,218.4 183.6,214.3 189.4,214.2 195.3,216.1 201.1,211.8 207.0,219.4 212.8,220.0"/><polyline points="160.2,231.6 166.0,232.9 171.9,224.7 177.7,231.4 183.6,228.0 189.4,231.2 195.3,229.2 201.1,228.1 207.0,227.6 212.8,225.7"/><polyline points="160.2,241.1 166.0,244.8 171.9,242.3 177.7,243.1 183.6,242.5 189.4,243.2 195.3,239.9 201.1,245.9 207.0,238.5 212.8,237.7"/><polyline points="160.2,258.0 166.0,255.5 171.9,258.1 177.7,258.8 183.6,256.0 189.4,254.8 195.3,250.6 201.1,255.6 207.0,256.6 212.8,251.0"/><polyline points="160.2,277.7 166.0,280.4 171.9,283.1 177.7,284.7 183.6,282.4 189.4,283.5 195.3,283.5 201.1,281.9 207.0,276.7 212.8,276.5"/><polyline points="160.2,295.2 166.0,293.0 171.9,295.7 177.7,296.4 183.6,294.5 189.4,297.6 195.3,296.4 201.1,294.5 207.0,291.8 212.8,289.4"/><polyline points="160.2,303.3 166.0,303.2 171.9,303.3 177.7,303.6 183.6,310.5 189.4,302.4 195.3,303.2 201.1,302.3 207.0,303.5 212.8,303.5"/><polyline points="160.2,323.5 166.0,323.2 171.9,322.8 177.7,322.4 183.6,315.3 189.4,319.8 195.3,319.9 201.1,321.1 207.0,322.5 212.8,322.1"/><polyline points="160.2,344.9 166.0,343.4 171.9,343.4 177.7,344.5 183.6,341.5 189.4,344.3 195.3,341.2 201.1,343.7 207.0,349.4 212.8,343.0"/><polyline points="160.2,354.1 166.0,355.1 171.9,355.0 177.7,355.4 183.6,362.3 189.4,354.4 195.3,357.8 201.1,357.7 207.0,355.9 212.8,355.9"/><polyline points="160.2,371.3 166.0,369.7 171.9,369.7 177.7,370.6 183.6,367.1 189.4,370.6 195.3,367.0 201.1,369.6 207.0,375.2 212.8,369.2"/><polyline points="160.2,397.2 166.0,396.0 171.9,395.1 177.7,395.2 183.6,392.9 189.4,400.9 195.3,398.7 201.1,396.6 207.0,401.1 212.8,396.7"/><polyline points="160.2,409.2 166.0,411.0 171.9,412.2 177.7,410.3 183.6,408.7 189.4,412.0 195.3,409.0 201.1,414.0 207.0,411.5 212.8,405.8"/><polyline points="160.2,418.8 166.0,422.8 171.9,422.4 177.7,421.7 183.6,422.9 189.4,425.7 195.3,424.0 201.1,424.4 207.0,427.0 212.8,422.0"/><polyline points="160.2,433.6 166.0,434.2 171.9,434.4 177.7,435.3 183.6,436.9 189.4,432.1 195.3,431.7 201.1,433.1 207.0,439.9 212.8,436.0"/><polyline points="160.2,447.9 166.0,446.4 171.9,447.7 177.7,448.6 183.6,450.8 189.4,452.7 195.3,444.6 201.1,447.1 207.0,452.8 212.8,451.2"/><polyline points="160.2,472.5 166.0,472.4 171.9,470.6 177.7,473.2 183.6,474.1 189.4,473.9 195.3,473.2 201.1,473.3 207.0,478.7 212.8,470.5"/><polyline points="160.2,491.6 166.0,485.6 171.9,488.1 177.7,490.9 183.6,486.1 189.4,487.9 195.3,483.4 201.1,486.8 207.0,487.8 212.8,488.4"/><polyline points="160.2,504.4 166.0,503.8 171.9,502.8 177.7,504.3 183.6,501.0 189.4,500.3 195.3,496.4 201.1,501.6 207.0,504.6 212.8,500.9"/><polyline points="160.2,513.4 166.0,510.8 171.9,514.3 177.7,512.3 183.6,512.2 189.4,511.9 195.3,509.6 201.1,515.1 207.0,517.5 212.8,509.3"/></g>
<g fill="#111" font-size="12" letter-spacing="-0.4"><text x="13.9" y="17.7">图表</text><text x="51.1" y="17.7">财政收支</text><text x="117.6" y="17.7" letter-spacing="0.6">月单月同比增速情况</text></g>
<g fill="#000" font-weight="bold"><text x="16.05" y="37.4" font-size="10.7">指标名称</text><text x="157.45" y="37.4" font-size="10.8" letter-spacing="0.5">近一年走势</text></g>
<g fill="#000" font-weight="bold" font-size="9.3" letter-spacing="0.6">
<text x="16.28" y="51.09">收入分项一览:</text>
<text x="16.28" y="102.77">公共财政收入分项</text>
<text x="16.28" y="115.69">税收收入</text>
<text x="26.28" y="128.60">主要税种</text>
<text x="26.28" y="193.20">地产税</text>
<text x="32.48" y="270.71">贸易税</text>
<text x="16.28" y="322.39">非税收入</text>
<text x="16.28" y="335.31">支出分项一览:</text>
<text x="26.28" y="386.98">民生类</text>
<text x="26.28" y="464.50">基建类</text>
</g>
<g fill="#1c1c1c" font-size="9" letter-spacing="0.5">
<text x="25.67" y="64.11">公共财政收入</text>
<text x="36.07" y="77.03">中央财政收入</text>
<text x="36.07" y="89.95">地方本级财政收入</text>
<text x="36.07" y="141.62">国内增值税</text>
<text x="36.07" y="154.54">企业所得税</text>
<text x="36.07" y="167.46">个人所得税</text>
<text x="36.07" y="180.38">国内消费税</text>
<text x="36.07" y="206.22">契税</text>
<text x="36.07" y="219.14">土地增值税</text>
<text x="36.07" y="232.06">房产税</text>
<text x="36.07" y="244.97">城镇土地使用税</text>
<text x="36.07" y="257.89">耕地占用税</text>
<text x="36.07" y="283.73">关税</text>
<text x="36.07" y="296.65">进口环节增值税和消费税</text>
<text x="36.07" y="309.57">外贸企业出口退税</text>
<text x="25.67" y="348.33">公共财政支出</text>
<text x="36.07" y="361.25">中央本级财政支出</text>
<text x="36.07" y="374.17">地方财政支出</text>
<text x="36.07" y="400.00">教育</text>
<text x="36.07" y="412.92">科学技术</text>
<text x="36.07" y="425.84">文化旅游体育与传媒</text>
<text x="36.07" y="438.76">社会保障和就业</text>
<text x="36.07" y="451.68">卫生健康</text>
<text x="36.07" y="477.52">节能环保</text>
<text x="36.07" y="490.44">城乡社区事务</text>
<text x="36.07" y="503.36">农林水事务</text>
<text x="36.07" y="516.27">交通运输</text>
</g>
<g fill="#111" font-size="11.8" font-style="italic"><text x="13.88" y="538" letter-spacing="-0.25">资料来源</text><text x="62.5" y="538">:</text><text x="74" y="538">Wind,</text><text x="112.45" y="538" letter-spacing="0.3">方正证券研究所</text></g>
</svg>
</body></html>
